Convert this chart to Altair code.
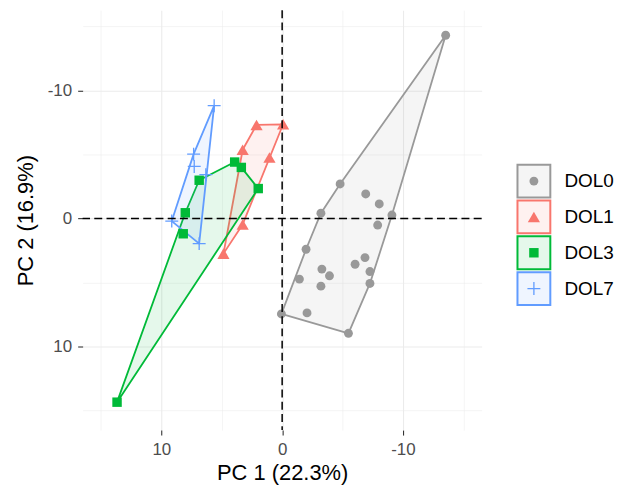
import altair as alt
import pandas as pd

groups = ["DOL0", "DOL1", "DOL3", "DOL7"]
colors = ["#999999", "#F8766D", "#00BA38", "#619CFF"]

dol0_pc1 = [-4.80, -6.92, -8.04, -3.21, -9.09, -7.91, -1.98, -6.86, -6.04, -3.29,
            -3.92, -7.27, -1.43, -7.27, -3.21, 0.06, -2.06, -5.49, -13.54]
dol0_pc2 = [-2.69, -1.91, -1.13, -0.41, -0.26, 0.52, 2.41, 3.06, 3.58, 3.96,
            4.48, 4.15, 4.74, 5.08, 5.29, 7.46, 7.38, 8.97, -14.30]
dol1_pc1 = [2.12, -0.08, 3.27, 1.05, 3.27, 4.86]
dol1_pc2 = [-7.30, -7.35, -5.36, -4.76, 0.47, 2.75]
dol3_pc1 = [3.93, 3.38, 1.98, 6.87, 8.02, 8.19, 13.67]
dol3_pc2 = [-4.40, -3.98, -2.33, -2.98, -0.44, 1.20, 14.35]
dol7_pc1 = [5.63, 7.33, 7.28, 6.32, 9.14, 6.87]
dol7_pc2 = [-8.80, -5.02, -4.06, -3.42, 0.21, 1.97]

series = {
    "DOL0": (dol0_pc1, dol0_pc2),
    "DOL1": (dol1_pc1, dol1_pc2),
    "DOL3": (dol3_pc1, dol3_pc2),
    "DOL7": (dol7_pc1, dol7_pc2),
}

plus_path = "M-1,-0.1L1,-0.1L1,0.1L-1,0.1Z M-0.1,-1L0.1,-1L0.1,1L-0.1,1Z"
shapes = {"DOL0": "circle", "DOL1": "triangle-up", "DOL3": "square", "DOL7": plus_path}
sizes = {"DOL0": 80, "DOL1": 150, "DOL3": 90, "DOL7": 169}


def convex_hull(xs, ys):
    pts = sorted(set(zip(xs, ys)))

    def cross(o, a, b):
        return (a[0] - o[0]) * (b[1] - o[1]) - (a[1] - o[1]) * (b[0] - o[0])

    lower = []
    for p in pts:
        while len(lower) >= 2 and cross(lower[-2], lower[-1], p) <= 0:
            lower.pop()
        lower.append(p)
    upper = []
    for p in reversed(pts):
        while len(upper) >= 2 and cross(upper[-2], upper[-1], p) <= 0:
            upper.pop()
        upper.append(p)
    return lower[:-1] + upper[:-1]


pt_rows, hull_rows = [], []
for g in groups:
    xs, ys = series[g]
    for a, b in zip(xs, ys):
        pt_rows.append({"group": g, "pc1": a, "pc2": b})
    for k, (a, b) in enumerate(convex_hull(xs, ys)):
        hull_rows.append({"group": g, "k": k, "pc1": a, "pc2": b})
pts_df = pd.DataFrame(pt_rows)
hull_df = pd.DataFrame(hull_rows)

color_scale = alt.Scale(domain=groups, range=colors)
minor_test = "datum.value % 10 != 0"
grid_vals = [-15, -10, -5, 0, 5, 10, 15]


def make_axis(label_pad, title_pad):
    return alt.Axis(
        values=grid_vals,
        labelExpr="datum.value % 10 == 0 ? toString(datum.value) : ''",
        tickOpacity={"condition": {"test": minor_test, "value": 0}, "value": 1},
        gridWidth={"condition": {"test": minor_test, "value": 0.55}, "value": 1.1},
        labelPadding=label_pad,
        titlePadding=title_pad,
        grid=True,
    )


def x_enc():
    return alt.X("pc1:Q", title="PC 1 (22.3%)",
                 scale=alt.Scale(domain=[-16.52, 16.52], reverse=True, nice=False, zero=False),
                 axis=make_axis(7, 5))


def y_enc():
    return alt.Y("pc2:Q", title="PC 2 (16.9%)",
                 scale=alt.Scale(domain=[-16.26, 16.53], reverse=True, nice=False, zero=False),
                 axis=make_axis(6, 10))


hulls = alt.Chart(hull_df).mark_line(
    interpolate="linear-closed", strokeWidth=1.8, fillOpacity=0.1, strokeJoin="round"
).encode(
    x=x_enc(), y=y_enc(), order="k:Q",
    stroke=alt.Stroke("group:N", scale=color_scale, legend=None),
    fill=alt.Fill("group:N", scale=color_scale, legend=None),
)

point_layers = []
for g, c in zip(groups, colors):
    point_layers.append(
        alt.Chart(pts_df).transform_filter(alt.datum.group == g).mark_point(
            shape=shapes[g], size=sizes[g], filled=True, color=c, opacity=1
        ).encode(x=x_enc(), y=y_enc())
    )

zero_df = pd.DataFrame({"pc1": [0.0], "pc2": [0.0]})
vline = alt.Chart(zero_df).mark_rule(color="black", strokeDash=[8, 4.3], strokeWidth=1.5).encode(x=x_enc())
hline = alt.Chart(zero_df).mark_rule(color="black", strokeDash=[8, 4.3], strokeWidth=1.5).encode(y=y_enc())

main = alt.layer(hulls, *point_layers, vline, hline).properties(width=401, height=422)

leg_df = pd.DataFrame({"group": groups})
leg_y = alt.Y("group:N", axis=None,
              scale=alt.Scale(type="point", domain=groups, range=[171.8, 279.8], padding=0))
boxes = alt.Chart(leg_df).mark_square(size=1089, strokeWidth=2, fillOpacity=0.1, opacity=1).encode(
    y=leg_y,
    fill=alt.Fill("group:N", scale=color_scale, legend=None),
    stroke=alt.Stroke("group:N", scale=color_scale, legend=None),
)
leg_syms = []
for g, c in zip(groups, colors):
    leg_syms.append(
        alt.Chart(leg_df).transform_filter(alt.datum.group == g).mark_point(
            shape=shapes[g], size=sizes[g], filled=True, color=c, opacity=1
        ).encode(y=leg_y)
    )
leg_text = alt.Chart(leg_df).mark_text(
    align="left", baseline="middle", dx=30.7, fontSize=19, font="Liberation Sans", color="black"
).encode(y=leg_y, text="group:N")
legend = alt.layer(boxes, *leg_syms, leg_text).properties(width=35, height=422)

chart = alt.hconcat(main, legend, spacing=31).properties(
    padding={"left": 6, "top": 0, "right": 0, "bottom": 0},
    background="white",
).configure_view(strokeWidth=0).configure_axis(
    labelFont="Liberation Sans", titleFont="Liberation Sans",
    labelFontSize=17, titleFontSize=22,
    labelColor="#4D4D4D", titleColor="#000000", titleFontWeight="normal",
    domain=False, tickColor="#333333", tickWidth=1.1, tickSize=5,
    gridColor="#EBEBEB",
)

chart.save("out.html", embed_options={"renderer": "svg", "actions": False})
